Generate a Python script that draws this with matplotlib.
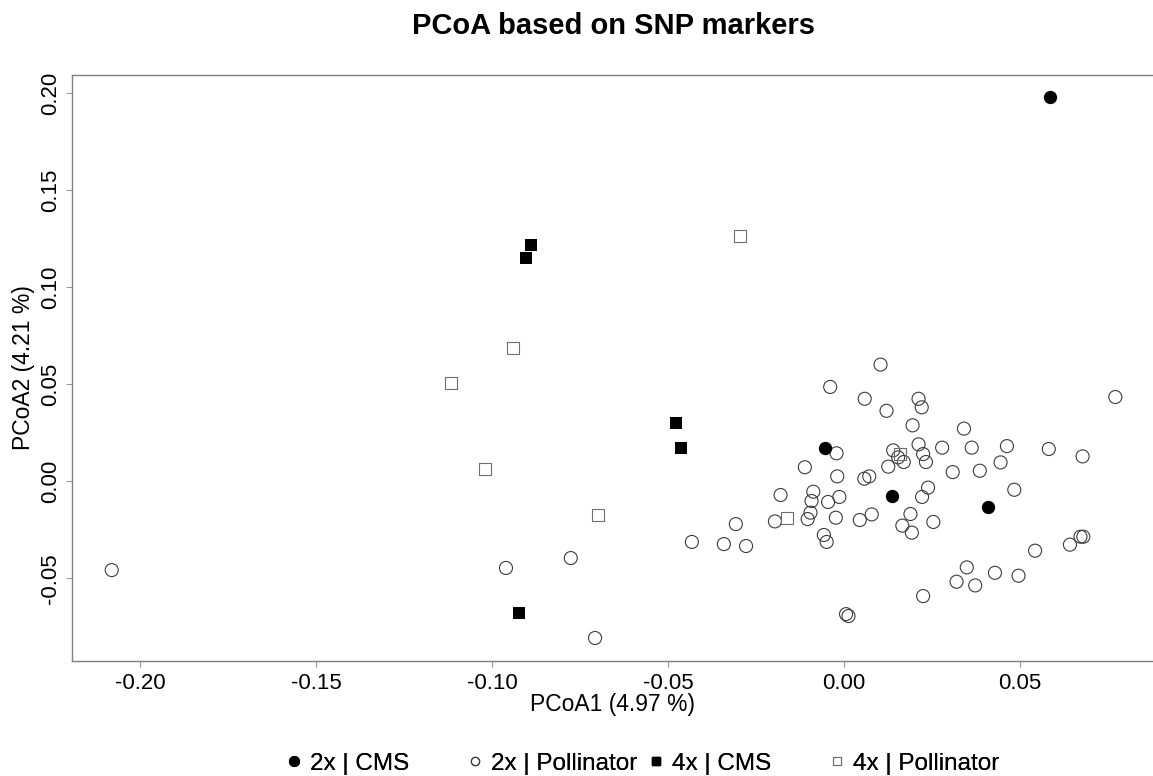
import numpy as np
import matplotlib
matplotlib.use("Agg")
import matplotlib.pyplot as plt
from matplotlib.lines import Line2D

plt.rcParams['font.family'] = ['Liberation Sans', 'DejaVu Sans']

# PCoA coordinates (PCoA1, PCoA2)
cms2x_x = [0.0585, -0.0054, 0.0136, 0.0409]
cms2x_y = [0.1981, 0.0174, -0.0073, -0.0130]

cms4x_x = [-0.0889, -0.0903, -0.0477, -0.0463, -0.0923]
cms4x_y = [0.1219, 0.1152, 0.0301, 0.0172, -0.0678]

pol4x_x = [-0.0295, -0.0940, -0.1116, -0.1020, -0.0699, -0.0162, 0.0159]
pol4x_y = [0.1265, 0.0688, 0.0507, 0.0064, -0.0173, -0.0189, 0.0141]

pol2x_x = [-0.2080, -0.0960, -0.0776, -0.0707, -0.0432, -0.0341, -0.0278, -0.0307,
           0.0104, -0.0039, 0.0059, 0.0212, 0.0221, 0.0121, 0.0195, 0.0341,
           -0.0021, 0.0212, 0.0140, 0.0279, 0.0225, 0.0154, 0.0170, 0.0233,
           0.0126, -0.0111, -0.0019, 0.0058, 0.0072, 0.0309, 0.0239, 0.0222,
           -0.0180, -0.0087, -0.0092, -0.0045, -0.0013, -0.0196, -0.0095, -0.0103,
           -0.0023, 0.0045, 0.0079, 0.0189, 0.0166, 0.0193, 0.0254, -0.0057,
           -0.0049, 0.0320, 0.0225, 0.0006, 0.0013, 0.0771, 0.0363, 0.0463,
           0.0582, 0.0678, 0.0445, 0.0386, 0.0484, 0.0672, 0.0680, 0.0642,
           0.0543, 0.0349, 0.0373, 0.0429, 0.0496]
pol2x_y = [-0.0457, -0.0446, -0.0395, -0.0807, -0.0312, -0.0323, -0.0333, -0.0220,
           0.0602, 0.0487, 0.0426, 0.0426, 0.0382, 0.0364, 0.0289, 0.0272,
           0.0145, 0.0191, 0.0160, 0.0174, 0.0141, 0.0124, 0.0100, 0.0100,
           0.0076, 0.0073, 0.0026, 0.0014, 0.0026, 0.0048, -0.0032, -0.0080,
           -0.0070, -0.0053, -0.0101, -0.0106, -0.0080, -0.0206, -0.0161, -0.0194,
           -0.0187, -0.0199, -0.0170, -0.0168, -0.0228, -0.0264, -0.0209, -0.0276,
           -0.0312, -0.0517, -0.0591, -0.0684, -0.0694, 0.0435, 0.0174, 0.0182,
           0.0167, 0.0129, 0.0098, 0.0055, -0.0043, -0.0285, -0.0285, -0.0326,
           -0.0357, -0.0443, -0.0536, -0.0471, -0.0486]

xticks = [-0.20, -0.15, -0.10, -0.05, 0.00, 0.05]
yticks = [-0.05, 0.00, 0.05, 0.10, 0.15, 0.20]
legend_labels = ["2x | CMS", "2x | Pollinator", "4x | CMS", "4x | Pollinator"]

fig = plt.figure(figsize=(11.53, 7.76), dpi=100)
ax = fig.add_axes([0.0627, 0.1486, 0.9373, 0.7548])

ax.scatter(pol2x_x, pol2x_y, s=88, marker='o', facecolors='none', edgecolors='#3c3c3c', linewidths=0.8)
ax.scatter(pol4x_x, pol4x_y, s=72, marker='s', facecolors='none', edgecolors='#6e6e6e', linewidths=0.8)
ax.scatter(cms2x_x, cms2x_y, s=92, marker='o', color='black', linewidths=0)
ax.scatter(cms4x_x, cms4x_y, s=78, marker='s', color='black', linewidths=0)

ax.set_xlim(-0.2192, 0.0878)
ax.set_ylim(-0.0924, 0.2095)
ax.set_xticks(xticks)
ax.set_xticklabels([f"{v:.2f}" for v in xticks])
ax.set_yticks(yticks)
ax.set_yticklabels([f"{v:.2f}" for v in yticks], rotation=90, va='center')

for side in ['left', 'bottom', 'top']:
    ax.spines[side].set_color('#7f7f7f')
    ax.spines[side].set_linewidth(1.0)
ax.spines['right'].set_visible(False)
ax.tick_params(axis='both', direction='out', length=4, width=0.8, color='#9a9a9a',
               labelsize=16, labelcolor='black')
ax.tick_params(axis='x', pad=5)
ax.tick_params(axis='y', pad=4)

ax.set_xlabel("PCoA1 (4.97 %)", fontsize=16.5, labelpad=-0.5)
ax.set_ylabel("PCoA2 (4.21 %)", fontsize=16.5, labelpad=4)
fig.text(0.532, 0.967, "PCoA based on SNP markers", ha='center', va='center',
         fontsize=21, fontweight='bold')

# R-style horizontal legend: items evenly spaced
handles = [
    Line2D([], [], marker='o', linestyle='none', color='black', markersize=7),
    Line2D([], [], marker='o', linestyle='none', markerfacecolor='none', markeredgecolor='#3c3c3c',
           markeredgewidth=0.8, markersize=6),
    Line2D([], [], marker='s', linestyle='none', color='black', markersize=6),
    Line2D([], [], marker='s', linestyle='none', markerfacecolor='none', markeredgecolor='#6e6e6e',
           markeredgewidth=0.8, markersize=6),
]
x0, step = 284, 181
for k, (h, lab) in enumerate(zip(handles, legend_labels)):
    leg = fig.legend([h], [lab], loc='center left',
                     bbox_to_anchor=((x0 + k * step) / 1153, 0.016),
                     frameon=False, fontsize=17.5, borderpad=0, borderaxespad=0,
                     handlelength=0.8, handletextpad=0.26)
    fig.add_artist(leg)

fig.savefig("out.png", dpi=100)
